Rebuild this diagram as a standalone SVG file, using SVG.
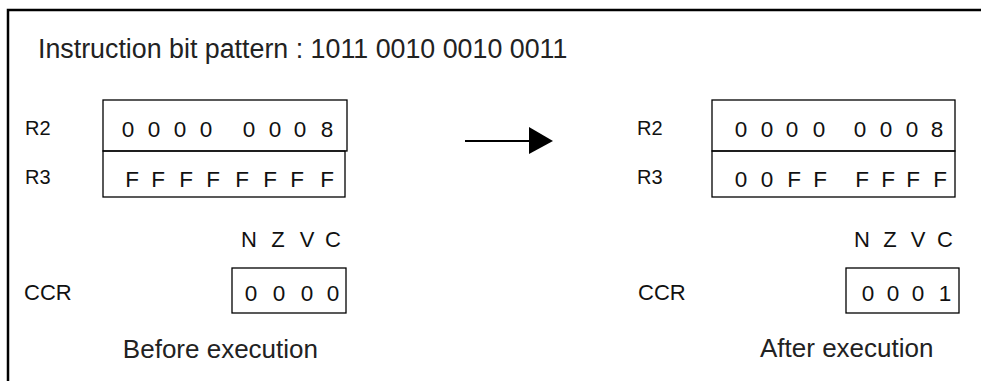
<svg xmlns="http://www.w3.org/2000/svg" width="981" height="381" viewBox="0 0 981 381">
<style>
text{font-family:"Liberation Sans",Arial,sans-serif;fill:#111}
.title{font-size:26.8px;fill:#222}
.lbl{font-size:20px}
.ccr{font-size:22px}
.val{font-size:22.5px;text-anchor:middle}
.flag{font-size:22px;text-anchor:middle}
.cap{font-size:26px;fill:#222}
.box{fill:none;stroke:#000;stroke-width:1.3}
</style>
<rect width="981" height="381" fill="#fff"/>
<path d="M8,381 V10 H981" fill="none" stroke="#000" stroke-width="2.5"/>
<text class="title" x="38" y="58">Instruction bit pattern : 1011 0010 0010 0011</text>
<g id="before">
<text class="lbl" x="25" y="135">R2</text>
<text class="lbl" x="25" y="184">R3</text>
<rect class="box" x="103" y="100" width="244" height="51"/>
<rect class="box" x="103" y="151" width="242" height="46"/>
<text class="val" x="128 154 180 206 249 275 300 327" y="137">00000008</text>
<text class="val" x="132 158 186 213 242 270 297 327" y="187">FFFFFFFF</text>
<text class="flag" x="249 278 307 333" y="247">NZVC</text>
<text class="ccr" x="24" y="300">CCR</text>
<rect class="box" x="232" y="268" width="114" height="45"/>
<text class="val" x="251 279 307 333" y="301">0000</text>
<text class="cap" x="318" y="358" text-anchor="end">Before execution</text>
</g>
<g id="arrow">
<line x1="465" y1="141" x2="531" y2="141" stroke="#000" stroke-width="2"/>
<polygon points="529,127 553,141 529,154" fill="#000"/>
</g>
<g id="after">
<text class="lbl" x="637" y="135">R2</text>
<text class="lbl" x="637" y="184">R3</text>
<rect class="box" x="712" y="100" width="243" height="51"/>
<rect class="box" x="712" y="151" width="243" height="46"/>
<text class="val" x="741 767 792 819 860 886 912 937" y="137">00000008</text>
<text class="val" x="741 767 794 820 862 888 913 940" y="187">00FFFFFF</text>
<text class="flag" x="862 890 918 945" y="247">NZVC</text>
<text class="ccr" x="638" y="300">CCR</text>
<rect class="box" x="846" y="268" width="113" height="45"/>
<text class="val" x="868 893 918 945" y="301">0001</text>
<text class="cap" x="760" y="357">After execution</text>
</g>
</svg>
